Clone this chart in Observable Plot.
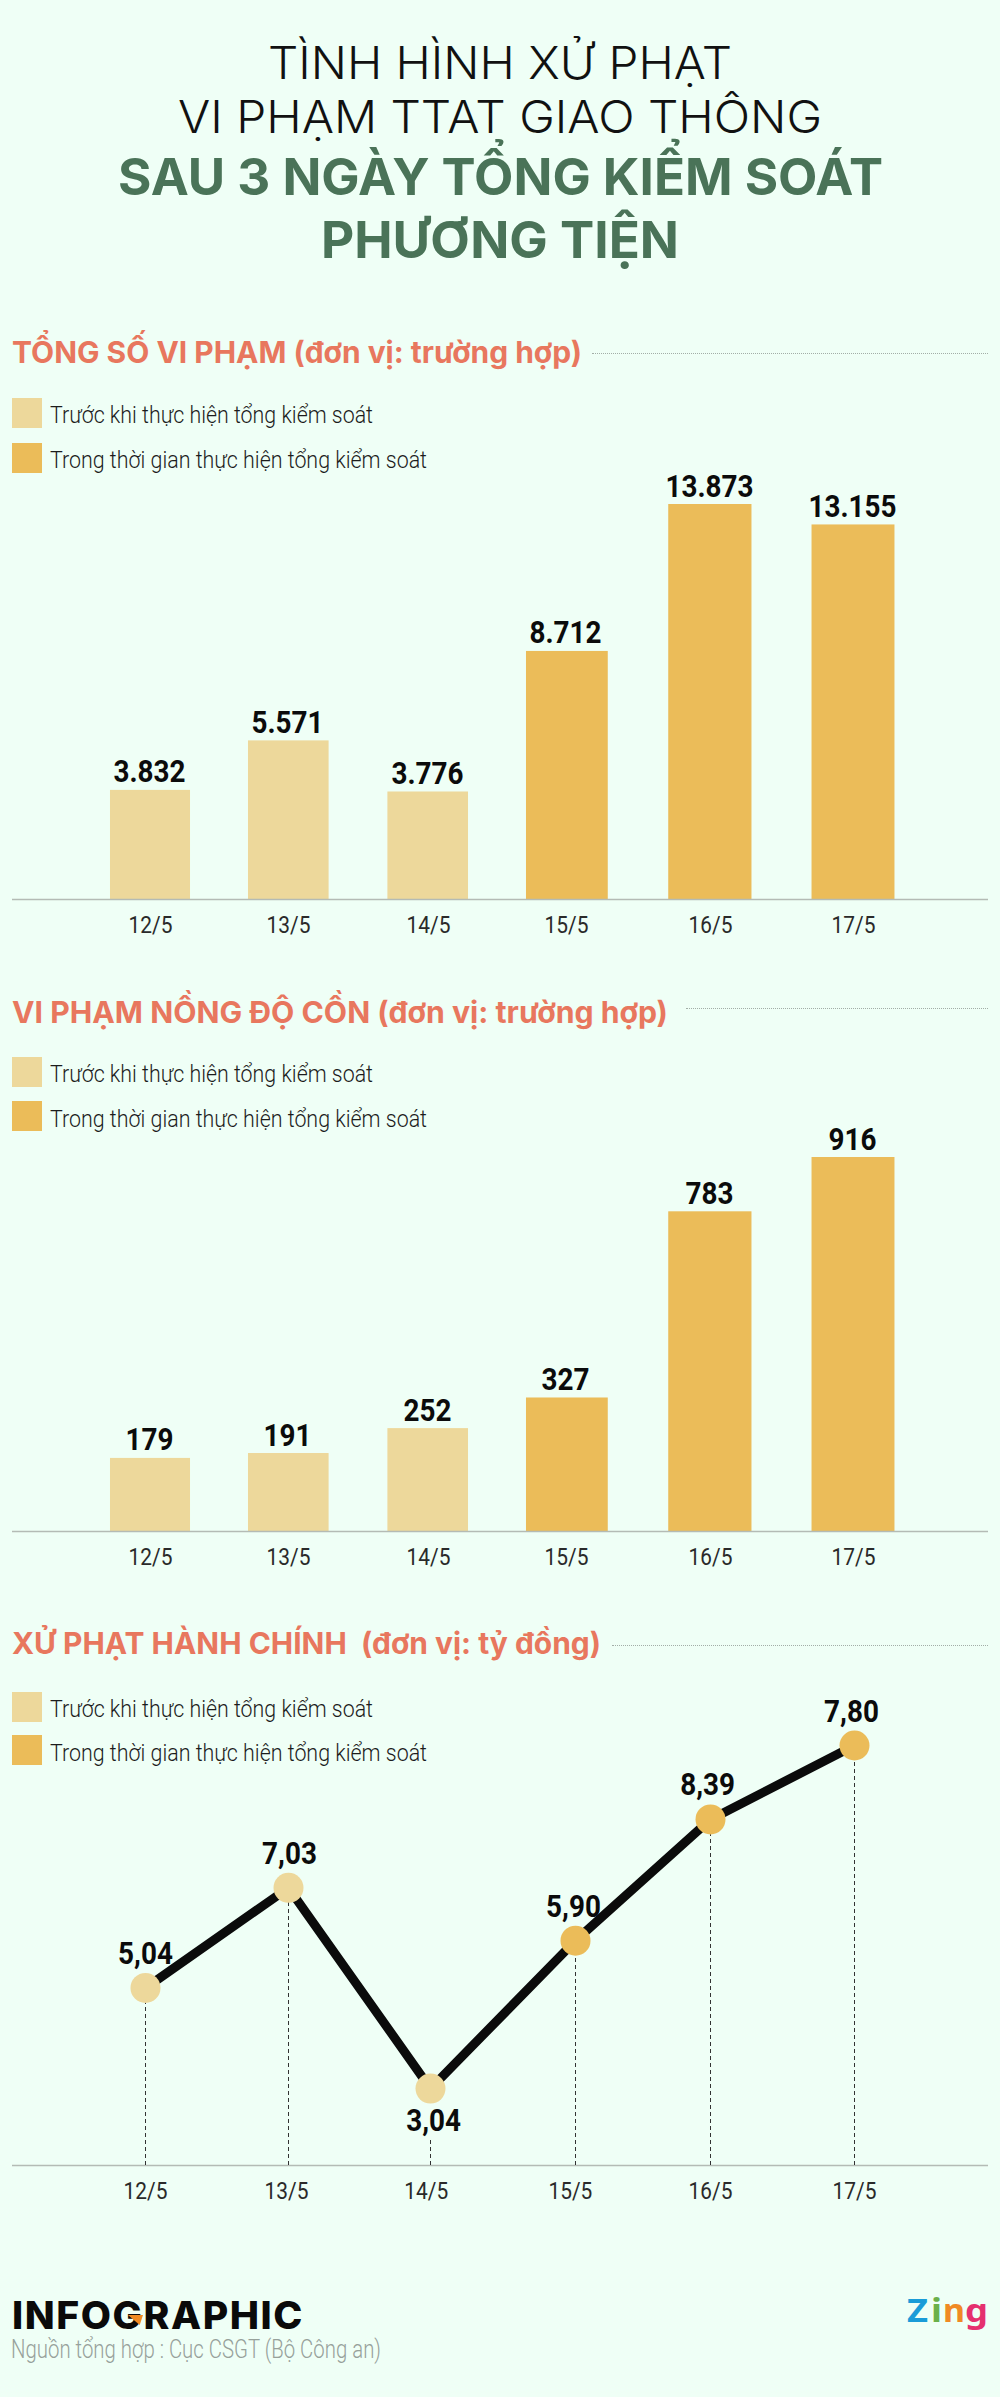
<!DOCTYPE html>
<html lang="vi">
<head>
<meta charset="utf-8">
<script src="https://cdn.jsdelivr.net/npm/d3@7"></script>
<script src="https://cdn.jsdelivr.net/npm/@observablehq/plot@0.6"></script>
<style>
  html, body { margin: 0; padding: 0; background: #EFFFF6; }
  #page { position: relative; width: 1000px; height: 2397px; overflow: hidden; background: #EFFFF6; }
  #page > * { position: absolute; }
  .t { white-space: pre; margin: 0; }
  .sw { width: 30px; height: 30px; }
  .dots { height: 0; border-top: 1px dotted #a3aea7; }
</style>
</head>
<body>
<div id="page"></div>
<script>
// ---- data ----
const days = [12, 13, 14, 15, 16, 17];
const tickLabels = ["12/5", "13/5", "14/5", "15/5", "16/5", "17/5"];
const phases = ["before", "before", "before", "during", "during", "during"];
const phaseColors = ["#EDD89B", "#EBBC59"];
const legendLabels = ["Trước khi thực hiện tổng kiểm soát", "Trong thời gian thực hiện tổng kiểm soát"];

const totalViolations = [3832, 5571, 3776, 8712, 13873, 13155];
const totalLabels = ["3.832", "5.571", "3.776", "8.712", "13.873", "13.155"];

const alcoholViolations = [179, 191, 252, 327, 783, 916];
const alcoholLabels = ["179", "191", "252", "327", "783", "916"];

// The labels are as printed; the last point is drawn well above its printed 7,80 in the source,
// so the height read from the picture is kept separately from the printed label.
const finesHeight = [5.04, 7.03, 3.04, 5.98, 8.39, 9.86];
const finesLabels = ["5,04", "7,03", "3,04", "5,90", "8,39", "7,80"];
const finesLabelDays = [12, 13.007, 14.021, 14.986, 15.978, 16.979];
const finesDropTop = [5.04, 7.03, 2.03, 5.98, 8.39, 9.86];
const finesTickDays = [12, 12.986, 13.97, 14.965, 16, 17];

const barDayPositions = [150, 288, 428, 566, 710, 853];
const lineDayPositions = [145, 288, 430, 575, 710, 854];

// ---- helpers ----
const INK = "#0b0b0b";
const page = document.getElementById("page");

function label(text, o) {
  const el = document.createElement("div");
  el.className = "t";
  el.textContent = text;
  el.style.font = o.font;
  el.style.color = o.color || INK;
  el.style.left = "0px"; el.style.top = "0px";
  if (o.spacing) el.style.letterSpacing = o.spacing;
  page.appendChild(el);
  const m = document.createElement("span");
  m.style.cssText = "display:inline-block;width:0;height:0";
  el.prepend(m);
  const base = m.getBoundingClientRect().bottom - page.getBoundingClientRect().top;
  m.remove();
  const natural = el.getBoundingClientRect().width;
  const k = o.w ? o.w / natural : 1;
  el.style.transformOrigin = "0 0";
  el.style.transform = `scaleX(${k})`;
  const w = natural * k;
  el.style.left = (o.anchor === "middle" ? o.x - w / 2 : o.x) + "px";
  el.style.top = (o.base - base) + "px";
  return el;
}

function section(text, textW, base, ruleX, ruleY, swatchY, legendBase) {
  label(text, {x: 12, base, w: textW, font: "700 30px Inter", color: "#E8775E"});
  const r = document.createElement("div");
  r.className = "dots";
  r.style.cssText += `left:${ruleX}px;top:${ruleY}px;width:${988 - ruleX}px`;
  page.appendChild(r);
  legendLabels.forEach((t, i) => {
    const s = document.createElement("div");
    s.className = "sw";
    s.style.cssText += `left:12px;top:${swatchY[i]}px;background:${phaseColors[i]}`;
    page.appendChild(s);
    label(t, {x: 50, base: legendBase[i], w: i ? 377 : 323, font: "300 24px Roboto", color: "#1c1c1c"});
  });
}

function squeeze(svg) {
  svg.querySelectorAll("text").forEach(t => {
    t.setAttribute("textLength", (t.getComputedTextLength() * 0.87).toFixed(2));
    t.setAttribute("lengthAdjust", "spacingAndGlyphs");
  });
}

function mount(svg, top) {
  svg.style.left = "0px";
  svg.style.top = top + "px";
  svg.style.background = "none";
  svg.style.overflow = "visible";
  page.appendChild(svg);
  squeeze(svg);
}

const axis = (ticks) => Plot.axisX({
  ticks, tickSize: 0, tickPadding: 16, label: null,
  tickFormat: d => tickLabels[Math.round(d) - 12],
  fontSize: 24, fontWeight: 400, fontFamily: "Roboto", fill: "#2a2a2a", lineAnchor: "top"
});

function barChart(values, labels, top, base, marginTop) {
  const rows = days.map((day, i) => ({day, value: values[i], text: labels[i], phase: phases[i]}));
  const halfBar = 0.29;
  const svg = Plot.plot({
    width: 1000, height: base - top + 60,
    marginTop, marginBottom: 60, marginLeft: 12, marginRight: 12,
    style: {background: "none", fontFamily: "Roboto"},
    x: {type: "linear", domain: days, range: barDayPositions, axis: null},
    y: {domain: [0, d3.max(values)], axis: null},
    color: {domain: ["before", "during"], range: phaseColors},
    marks: [
      Plot.rect(rows, {x1: d => d.day - halfBar, x2: d => d.day + halfBar, y1: () => 0, y2: "value", fill: "phase"}),
      Plot.ruleY([0], {stroke: "#B4BBB5", strokeWidth: 1.5}),
      Plot.text(rows, {x: "day", y: "value", text: "text", dx: -1, dy: -8, lineAnchor: "bottom", fontSize: 32, fontWeight: 700, fontFamily: "Roboto", fill: INK}),
      axis(days)
    ]
  });
  mount(svg, top);
}

// ---- header ----
label("TÌNH HÌNH XỬ PHẠT", {x: 500, base: 79, w: 464, anchor: "middle", font: "300 45px Inter", color: "#111"});
label("VI PHẠM TTAT GIAO THÔNG", {x: 500, base: 133, w: 644, anchor: "middle", font: "300 45px Inter", color: "#111"});
label("SAU 3 NGÀY TỔNG KIỂM SOÁT", {x: 500, base: 195, w: 765, anchor: "middle", font: "700 51px Inter", color: "#4A7358"});
label("PHƯƠNG TIỆN", {x: 500, base: 258, w: 358, anchor: "middle", font: "700 51px Inter", color: "#4A7358"});

// ---- section 1 ----
section("TỔNG SỐ VI PHẠM (đơn vị: trường hợp)", 570, 363, 592, 353, [398, 443], [423, 468]);
barChart(totalViolations, totalLabels, 460, 899, 44);

// ---- section 2 ----
section("VI PHẠM NỒNG ĐỘ CỒN (đơn vị: trường hợp)", 656, 1023, 686, 1008, [1057, 1101], [1082, 1127]);
barChart(alcoholViolations, alcoholLabels, 1110, 1531, 47);

// ---- section 3 ----
section("XỬ PHẠT HÀNH CHÍNH\u00A0 (đơn vị: tỷ đồng)", 589, 1654, 612, 1645, [1692, 1735], [1717, 1761]);
{
  const rows = days.map((day, i) => ({day, labelDay: finesLabelDays[i], h: finesHeight[i], top: finesDropTop[i], text: finesLabels[i], phase: phases[i]}));
  const above = rows.filter(d => d.text !== "3,04");
  const below = rows.filter(d => d.text === "3,04");
  const floor = 1.51;
  const top = 1680, base = 2165;
  const svg = Plot.plot({
    width: 1000, height: base - top + 60,
    marginTop: 65, marginBottom: 60, marginLeft: 12, marginRight: 12,
    style: {background: "none", fontFamily: "Roboto"},
    x: {type: "linear", domain: days, range: lineDayPositions, axis: null},
    y: {domain: [floor, d3.max(finesHeight)], axis: null},
    color: {domain: ["before", "during"], range: phaseColors},
    marks: [
      Plot.ruleY([floor], {stroke: "#B4BBB5", strokeWidth: 1.5}),
      Plot.ruleX(rows, {x: "day", y1: () => floor, y2: "top", stroke: "#333", strokeWidth: 1, strokeDasharray: "4,3"}),
      Plot.line(rows, {x: "day", y: "h", stroke: INK, strokeWidth: 9, curve: "linear"}),
      Plot.dot(rows, {x: "day", y: "h", r: 15, fill: "phase"}),
      Plot.text(above, {x: "labelDay", y: "h", text: "text", dy: -24, lineAnchor: "bottom", fontSize: 32, fontWeight: 700, fontFamily: "Roboto", fill: INK}),
      Plot.text(below, {x: "labelDay", y: "h", text: "text", dy: 42, lineAnchor: "bottom", fontSize: 32, fontWeight: 700, fontFamily: "Roboto", fill: INK}),
      axis(finesTickDays)
    ]
  });
  mount(svg, top);
}

// ---- footer ----
label("INFOGRAPHIC", {x: 12, base: 2329, w: 292, font: "800 38px Inter", color: "#0a0a0a", spacing: "1.5px"});
{
  const tri = document.createElement("div");
  tri.style.cssText = "left:128px;top:2315px;width:15px;height:10px;background:#F08A24;clip-path:polygon(0 0,100% 0,78% 100%)";
  page.appendChild(tri);
}
label("Nguồn tổng hợp : Cục CSGT (Bộ Công an)", {x: 11, base: 2358, w: 370, font: "300 26px Roboto", color: "#97A19B"});
[["Z", 907, 21, "#1A9CD8"], ["i", 931, 11, "#6BB04A"], ["n", 943, 22, "#F08A24"], ["g", 965, 23, "#E5306F"]].forEach(([c, x, w, color]) =>
  label(c, {x, base: 2322, w, font: "700 33px 'Noto Sans'", color}));
</script>
</body>
</html>
